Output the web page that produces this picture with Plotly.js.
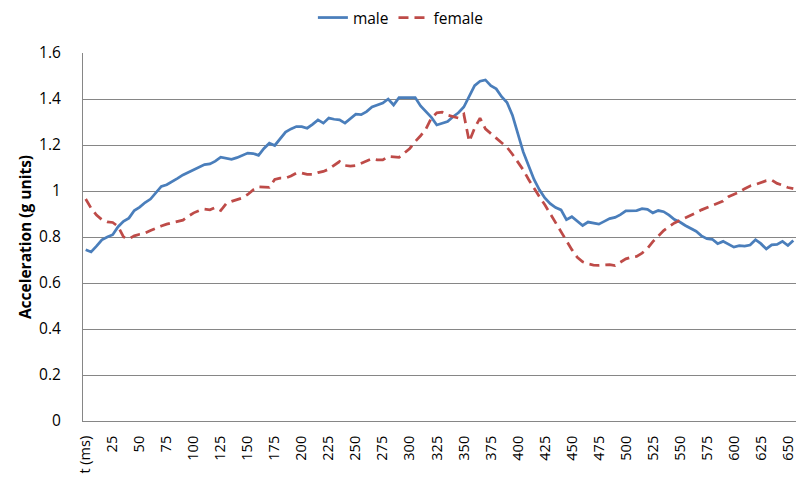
<!DOCTYPE html>
<html>
<head>
<meta charset="utf-8">
<script src="https://cdn.plot.ly/plotly-3.0.1.min.js"></script>
<style>html,body{margin:0;padding:0;background:#fff;}#chart{width:797px;height:484px;}</style>
</head>
<body>
<div id="chart"></div>
<script>
// time in ms, every 5 ms from 0 to 655
const tStep = 5;
const maleValues = [
  0.745, 0.735, 0.760, 0.788, 0.800, 0.810, 0.845, 0.868, 0.882, 0.915,
  0.930, 0.950, 0.965, 0.995, 1.020, 1.027, 1.040, 1.055, 1.070, 1.082,
  1.092, 1.105, 1.115, 1.118, 1.130, 1.147, 1.143, 1.138, 1.145, 1.155,
  1.165, 1.163, 1.155, 1.185, 1.208, 1.198, 1.228, 1.256, 1.270, 1.280,
  1.280, 1.273, 1.290, 1.309, 1.295, 1.317, 1.312, 1.309, 1.295, 1.315,
  1.334, 1.332, 1.345, 1.365, 1.372, 1.382, 1.400, 1.374, 1.406, 1.406,
  1.406, 1.406, 1.370, 1.345, 1.320, 1.287, 1.295, 1.302, 1.323, 1.340,
  1.365, 1.410, 1.458, 1.477, 1.483, 1.458, 1.444, 1.410, 1.385, 1.330,
  1.250, 1.170, 1.110, 1.050, 1.005, 0.970, 0.945, 0.928, 0.918, 0.875,
  0.888, 0.870, 0.850, 0.865, 0.860, 0.856, 0.868, 0.880, 0.885, 0.897,
  0.914, 0.914, 0.915, 0.923, 0.920, 0.905, 0.915, 0.910, 0.895, 0.876,
  0.865, 0.850, 0.838, 0.825, 0.805, 0.793, 0.790, 0.771, 0.781, 0.768,
  0.756, 0.762, 0.760, 0.765, 0.788, 0.771, 0.748, 0.766, 0.768, 0.781,
  0.763, 0.785
];
const femaleValues = [
  0.965, 0.925, 0.895, 0.875, 0.866, 0.863, 0.846, 0.800, 0.792, 0.805,
  0.812, 0.817, 0.828, 0.839, 0.848, 0.856, 0.862, 0.868, 0.873, 0.890,
  0.905, 0.915, 0.921, 0.918, 0.928, 0.915, 0.945, 0.955, 0.963, 0.970,
  0.985, 1.005, 1.018, 1.018, 1.016, 1.050, 1.056, 1.056, 1.065, 1.078,
  1.078, 1.072, 1.072, 1.080, 1.085, 1.095, 1.110, 1.128, 1.111, 1.108,
  1.111, 1.120, 1.132, 1.140, 1.135, 1.135, 1.150, 1.148, 1.146, 1.165,
  1.185, 1.215, 1.240, 1.270, 1.317, 1.340, 1.343, 1.330, 1.322, 1.317,
  1.334, 1.215, 1.273, 1.317, 1.270, 1.252, 1.230, 1.210, 1.190, 1.160,
  1.125, 1.092, 1.050, 1.010, 0.975, 0.940, 0.900, 0.862, 0.825, 0.785,
  0.745, 0.712, 0.692, 0.683, 0.678, 0.677, 0.678, 0.680, 0.676, 0.690,
  0.705, 0.712, 0.716, 0.730, 0.750, 0.780, 0.805, 0.828, 0.845, 0.861,
  0.872, 0.882, 0.894, 0.905, 0.918, 0.928, 0.937, 0.946, 0.956, 0.975,
  0.985, 0.995, 1.010, 1.022, 1.028, 1.037, 1.045, 1.048, 1.033, 1.025,
  1.015, 1.010
];
const times = maleValues.map((_, i) => i * tStep);
const tickTimes = [0,25,50,75,100,125,150,175,200,225,250,275,300,325,350,375,400,425,450,475,500,525,550,575,600,625,650];
const tickLabels = ["t (ms)","25","50","75","100","125","150","175","200","225","250","275","300","325","350","375","400","425","450","475","500","525","550","575","600","625","650"];
const yTicks = [0,0.2,0.4,0.6,0.8,1,1.2,1.4,1.6];
const yTickLabels = ["0","0.2","0.4","0.6","0.8","1","1.2","1.4","1.6"];

const font = "Open Sans, Noto Sans, sans-serif";
const traces = [
  {x: times, y: maleValues, name: "male", type: "scatter", mode: "lines",
   line: {color: "#4A7EBB", width: 2.75}},
  {x: times, y: femaleValues, name: "female", type: "scatter", mode: "lines",
   line: {color: "#BE4B48", width: 2.75, dash: "10px,6px"}}
];
const layout = {
  width: 797, height: 484,
  margin: {l: 83, r: 1, t: 53, b: 62.5},
  paper_bgcolor: "#ffffff", plot_bgcolor: "#ffffff",
  font: {family: font, size: 15, color: "#000000"},
  showlegend: true,
  legend: {orientation: "h", x: 0.503, xanchor: "center", xref: "container",
    y: 0.998, yanchor: "top", yref: "container", font: {family: font, size: 15.5},
    traceorder: "normal", itemwidth: 30},
  xaxis: {range: [-2.5, 657.5], tickmode: "array", tickvals: tickTimes, ticktext: tickLabels,
    tickangle: -90, showgrid: false, zeroline: false, showline: true, linecolor: "#868686",
    linewidth: 1, ticks: "", ticklabelstandoff: 8, tickfont: {family: font, size: 14.5}},
  yaxis: {range: [0, 1.6], tickmode: "array", tickvals: yTicks, ticktext: yTickLabels,
    showgrid: true, gridcolor: "#868686", gridwidth: 1, zeroline: false, showline: true,
    linecolor: "#868686", linewidth: 1, ticks: "", ticklabelstandoff: 18,
    tickfont: {family: font, size: 15.5},
    title: {text: "<b>Acceleration (g units)</b>", font: {family: font, size: 15.5}, standoff: 3}}
};
Plotly.newPlot("chart", traces, layout, {displayModeBar: false, staticPlot: true});
</script>
</body>
</html>
